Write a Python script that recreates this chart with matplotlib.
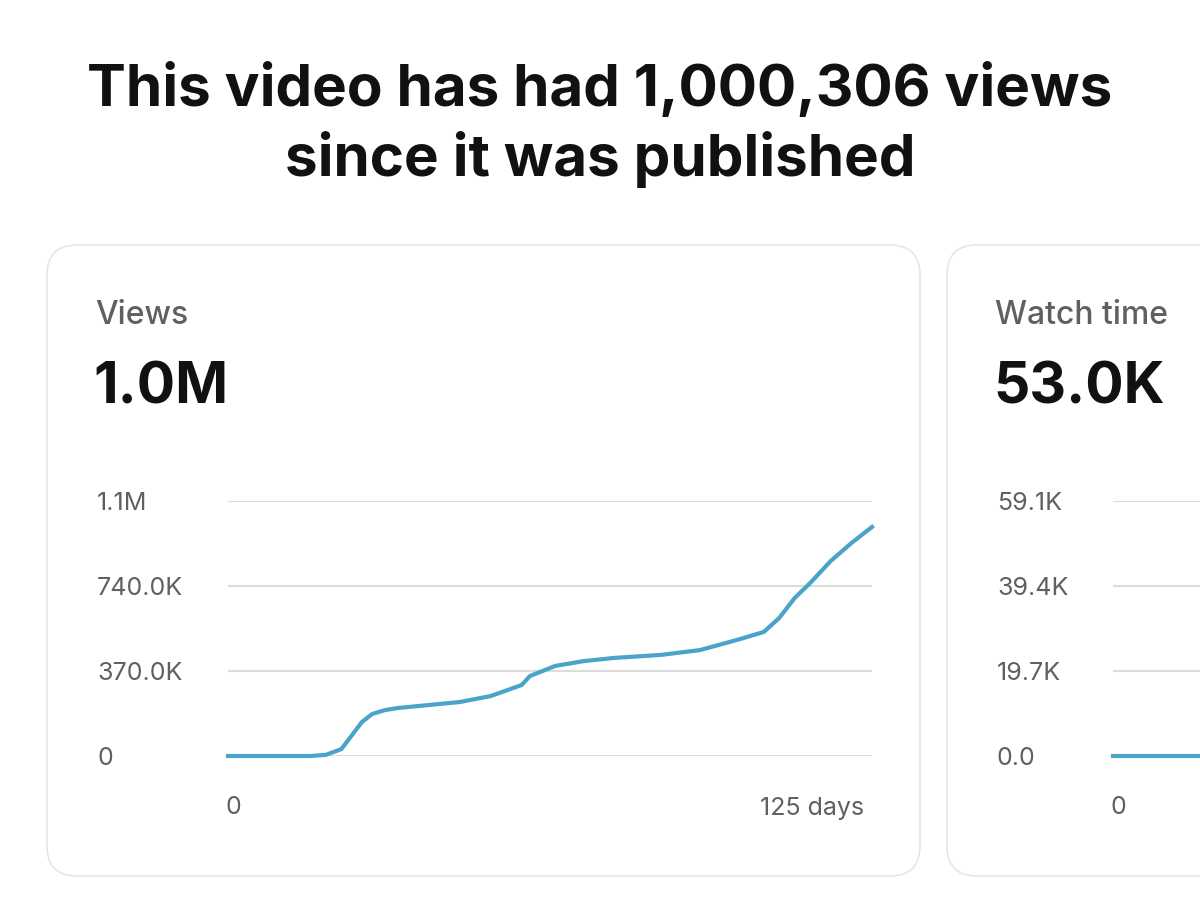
import matplotlib.pyplot as plt
from matplotlib.patches import FancyBboxPatch

plt.rcParams['font.family'] = ['Inter', 'DejaVu Sans']

# Views card (cumulative views by day)
view_days = [0, 16, 19, 22, 26, 28, 30.5, 33, 39, 45, 51, 57, 58.6, 63.5, 69, 75,
             84, 91.6, 99.4, 104, 107, 110, 113, 117, 121, 125]
view_vals = [0, 0, 5e3, 30e3, 148e3, 183e3, 200e3, 209e3, 222e3, 235e3, 261e3,
             309e3, 348e3, 392e3, 413e3, 427e3, 440e3, 461e3, 509e3, 540e3,
             601e3, 688e3, 753e3, 849e3, 927e3, 997e3]
view_ticks = [0, 370e3, 740e3, 1110e3]
view_labels = ['0', '370.0K', '740.0K', '1.1M']

# Watch time card (only the start is visible)
watch_days = [0, 17]
watch_vals = [0, 0]
watch_ticks = [0, 19.7e3, 39.4e3, 59.1e3]
watch_labels = ['0.0', '19.7K', '39.4K', '59.1K']

W, H = 1200, 906
fig = plt.figure(figsize=(12, 9.06), dpi=100)


def fx(x):
    return x / W


def fy(y):
    return 1 - y / H


fig.text(0.5, fy(90), 'This video has had 1,000,306 views', ha='center', va='center',
         fontsize=42, fontweight='bold', color='#111111')
fig.text(0.5, fy(160), 'since it was published', ha='center', va='center',
         fontsize=42, fontweight='bold', color='#111111')


def card(x0, grid_off, title, big, days, vals, ticks, labels, xlab_right):
    box = FancyBboxPatch((fx(x0), fy(876)), fx(873), fy(245) - fy(876),
                         boxstyle='round,pad=0,rounding_size=0.025',
                         transform=fig.transFigure, facecolor='white',
                         edgecolor='#e6e6e6', linewidth=1.2, mutation_aspect=W / H,
                         zorder=-5)
    fig.patches.append(box)
    fig.text(fx(x0 + 48), fy(315), title, ha='left', va='center', fontsize=23,
             color='#606060', fontweight='medium')
    fig.text(fx(x0 + 46), fy(388), big, ha='left', va='center', fontsize=41,
             fontweight='bold', color='#111111')
    ax = fig.add_axes([fx(x0 + grid_off), fy(756), fx(644), fy(501) - fy(756)])
    ax.set_xlim(0, 125)
    ax.set_ylim(0, ticks[-1])
    for t in ticks:
        ax.axhline(t, color='#dcdcdc', linewidth=1.5, zorder=1)
    ax.plot(days, vals, color='#4aa3c9', linewidth=3, zorder=3, clip_on=False)
    ax.set_yticks(ticks)
    ax.set_yticklabels(labels)
    ax.set_xticks([])
    ax.tick_params(axis='y', length=0, pad=0, labelsize=18, labelcolor='#606060')
    for lab in ax.get_yticklabels():
        lab.set_horizontalalignment('left')
        lab.set_x(-(grid_off - 50) / 644)
    for s in ax.spines.values():
        s.set_visible(False)
    ax.patch.set_alpha(0)
    fig.text(fx(x0 + grid_off + 5), fy(808), '0', ha='center', va='center',
             fontsize=18, color='#606060')
    if xlab_right:
        fig.text(fx(x0 + grid_off + 636), fy(808), xlab_right, ha='right',
                 va='center', fontsize=18, color='#606060')


card(47, 181, 'Views', '1.0M', view_days, view_vals, view_ticks, view_labels,
     '125 days')
card(947, 166, 'Watch time', '53.0K', watch_days, watch_vals, watch_ticks,
     watch_labels, None)

fig.savefig('out.png', dpi=100, facecolor='white')
